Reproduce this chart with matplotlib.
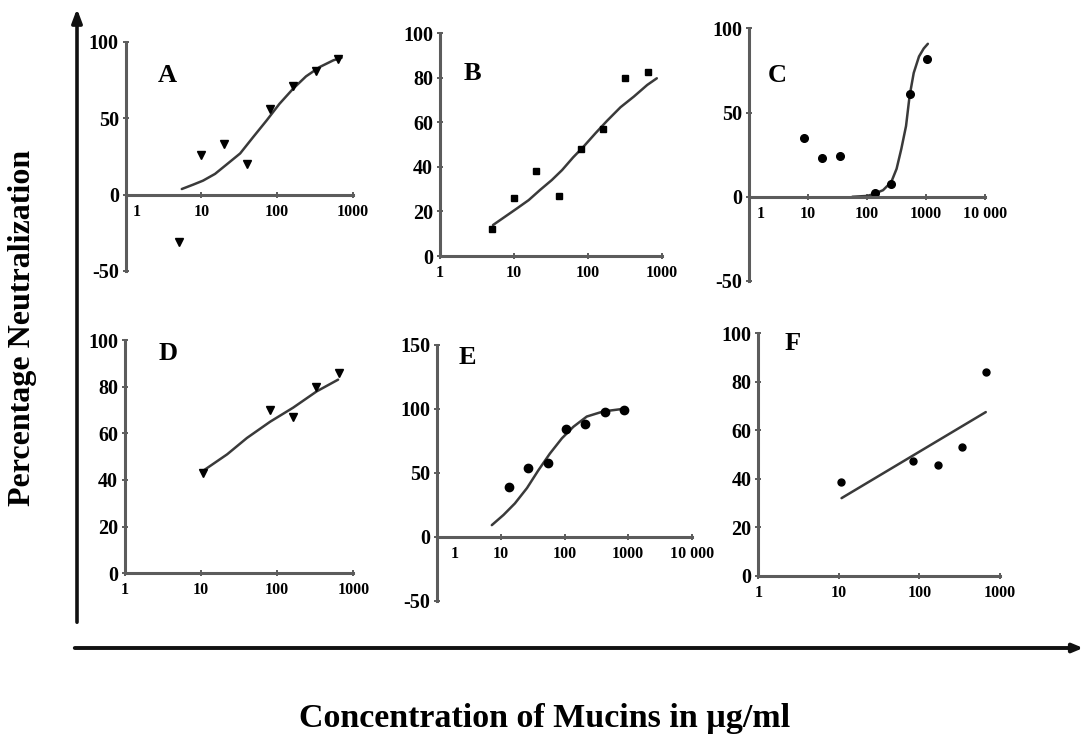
import matplotlib
matplotlib.use('Agg')
import matplotlib.pyplot as plt
from matplotlib.transforms import ScaledTranslation

W, H = 1086, 740

# panel A - triangles
a_x = [5, 10, 20, 40, 80, 160, 320, 640]
a_y = [-31, 26, 33, 20, 56, 71, 81, 89]
a_fit_x = [5.5, 7.8, 10.5, 15.1, 21.4, 32.4, 47.9, 72.4, 107, 162, 240, 363, 550, 708]
a_fit_y = [3.7, 6.6, 9.2, 13.6, 19.7, 27, 37.6, 48.6, 59.5, 69.4, 77.5, 83.6, 88, 89.7]

# panel B - squares
b_x = [5, 10, 20, 40, 80, 160, 320, 640]
b_y = [12, 26, 38, 27, 48, 57, 80, 82.5]
b_fit_x = [5.2, 7.6, 11, 15.8, 22.4, 32.4, 44.7, 63, 87, 126, 182, 275, 417, 631, 851]
b_fit_y = [13.9, 17.7, 21.4, 25.1, 29.6, 34.1, 38.6, 44.3, 49.1, 55.1, 60.8, 66.8, 71.6, 76.8, 79.8]

# panel C - circles
c_x = [8.5, 17, 34, 135, 257, 525, 1050]
c_y = [35, 23, 24, 2.5, 7.8, 61, 82]
c_fit_x = [56, 100, 126, 186, 257, 316, 380, 457, 525, 617, 759, 912, 1072]
c_fit_y = [0, 0.5, 1.5, 3.9, 8.8, 16.6, 28.4, 42, 59.8, 73.5, 83.3, 88, 90.8]

# panel D - triangles
d_x = [10.5, 80, 160, 320, 640]
d_y = [43, 70, 67, 80, 86]
d_fit_x = [10.7, 22, 40, 81, 162, 331, 631]
d_fit_y = [44, 51, 58, 65, 71, 78, 83]

# panel E - circles
e_x = [13.6, 27, 54.5, 106, 213, 427, 870]
e_y = [38.5, 53.5, 58, 84, 88, 97.3, 99]
e_fit_x = [7.2, 11, 16.6, 25.7, 38.9, 58.9, 91.2, 138, 224, 407, 832]
e_fit_y = [9, 17, 26, 38, 52, 65, 77, 86, 94, 98, 100]

# panel F - circles
f_x = [10.5, 84, 168, 337, 666]
f_y = [38.5, 47.5, 45.5, 53, 84]
f_fit_x = [10.8, 666]
f_fit_y = [32, 67.5]

ticks_3 = [1, 10, 100, 1000]
ticks_4 = [1, 10, 100, 1000, 10000]
labels_3 = ['1', '10', '100', '1000']
labels_4 = ['1', '10', '100', '1000', '10 000']

FONT = 'Liberation Serif'
AXC = '#5c5c5c'
LINEC = '#3a3a3a'

fig = plt.figure(figsize=(W / 100, H / 100), dpi=100)

# background axes in pixel coordinates for the big arrows and labels
bg = fig.add_axes([0, 0, 1, 1])
bg.set_xlim(0, W)
bg.set_ylim(H, 0)
bg.axis('off')
bg.annotate('', xy=(77, 6), xytext=(77, 625),
            arrowprops=dict(arrowstyle='-|>,head_length=0.8,head_width=0.3', lw=2.6, color='#111111'))
bg.annotate('', xy=(1086, 648), xytext=(72, 648),
            arrowprops=dict(arrowstyle='-|>,head_length=0.6,head_width=0.25', lw=2.8, color='#111111'))
bg.text(23, 328, 'Percentage Neutralization', rotation=90, ha='center', va='center',
        family=FONT, fontweight='bold', fontsize=23)
bg.text(545, 718, 'Concentration of Mucins in µg/ml', ha='center', va='center',
        family=FONT, fontweight='bold', fontsize=24.5)


def panel(px, letter, letter_xy, xs, ys, fx, fy, marker, ms, yticks, ylim, xticks, xlabels, shift_one):
    x0, x1, ytop, ybot = px
    ax = fig.add_axes([x0 / W, 1 - ybot / H, (x1 - x0) / W, (ybot - ytop) / H])
    ax.patch.set_alpha(0)
    ax.set_xscale('log')
    ax.set_xlim(xticks[0], xticks[-1])
    ax.set_ylim(*ylim)
    for s in ['top', 'right']:
        ax.spines[s].set_visible(False)
    ax.spines['left'].set_color(AXC)
    ax.spines['left'].set_linewidth(2.2)
    ax.spines['bottom'].set_color(AXC)
    ax.spines['bottom'].set_linewidth(2.2)
    ax.spines['bottom'].set_position(('data', 0))
    ax.set_xticks(xticks)
    ax.set_xticklabels(xlabels)
    ax.xaxis.set_minor_locator(matplotlib.ticker.NullLocator())
    ax.set_yticks(yticks)
    ax.set_yticklabels([str(t) for t in yticks])
    ax.tick_params(axis='x', direction='inout', length=5, width=1.4, color=AXC, pad=4,
                   labelsize=11.5)
    ax.tick_params(axis='y', direction='inout', length=4, width=1.4, color=AXC, pad=3,
                   labelsize=14.5)
    for lab in ax.get_xticklabels() + ax.get_yticklabels():
        lab.set_fontfamily(FONT)
        lab.set_fontweight('bold')
    if shift_one:
        lab = ax.get_xticklabels()[0]
        lab.set_transform(lab.get_transform() + ScaledTranslation(shift_one / 100, 0, fig.dpi_scale_trans))
    ax.plot(fx, fy, color=LINEC, lw=1.8, clip_on=False, solid_capstyle='round')
    ax.plot(xs, ys, linestyle='none', marker=marker, ms=ms, color='black', clip_on=False)
    bg.text(letter_xy[0], letter_xy[1], letter, ha='center', va='center',
            family=FONT, fontweight='bold', fontsize=19)
    return ax


panel((125.7, 353, 42, 271), 'A', (167, 75), a_x, a_y, a_fit_x, a_fit_y, 'v', 5.5,
      [-50, 0, 50, 100], (-50, 100), ticks_3, labels_3, 11)
panel((440, 662, 33.3, 256), 'B', (472, 73), b_x, b_y, b_fit_x, b_fit_y, 's', 5,
      [0, 20, 40, 60, 80, 100], (0, 100), ticks_3, labels_3, 0)
panel((749.3, 985, 28.3, 281), 'C', (777, 75), c_x, c_y, c_fit_x, c_fit_y, 'o', 5.5,
      [-50, 0, 50, 100], (-50, 100), ticks_4, labels_4, 11)
panel((125, 353.3, 340, 573.3), 'D', (168, 353), d_x, d_y, d_fit_x, d_fit_y, 'v', 5.5,
      [0, 20, 40, 60, 80, 100], (0, 100), ticks_3, labels_3, 0)
panel((437.3, 691.7, 345, 600.5), 'E', (467, 357), e_x, e_y, e_fit_x, e_fit_y, 'o', 6,
      [-50, 0, 50, 100, 150], (-50, 150), ticks_4, labels_4, 17)
panel((758.3, 1000, 333.3, 575.7), 'F', (793, 343), f_x, f_y, f_fit_x, f_fit_y, 'o', 5,
      [0, 20, 40, 60, 80, 100], (0, 100), ticks_3, labels_3, 0)

fig.savefig('out.png', dpi=100)
